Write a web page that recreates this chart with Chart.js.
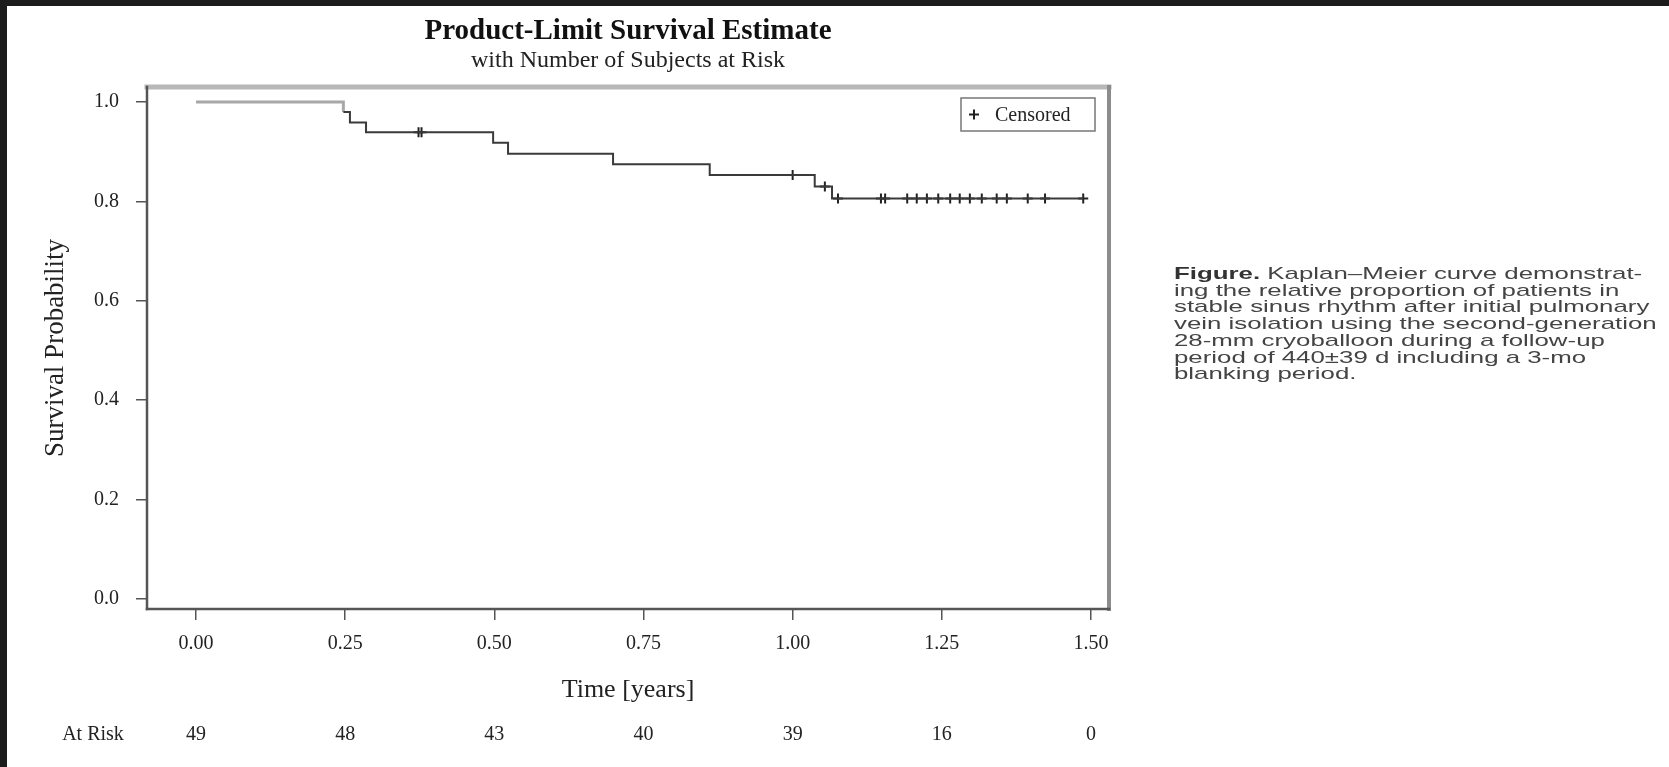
<!DOCTYPE html>
<html>
<head>
<meta charset="utf-8">
<title>Product-Limit Survival Estimate</title>
<script src="https://cdn.jsdelivr.net/npm/chart.js@4.4.0/dist/chart.umd.min.js"></script>
<style>
html, body { margin: 0; padding: 0; overflow: hidden; background: #1c1c1c; width: 1669px; height: 767px; }
#page { position: absolute; left: 7px; top: 6px; right: 0; bottom: 0; background: #fff; }
#wrap { position: absolute; left: 0; top: 0; width: 1669px; height: 767px; }
#caption {
  position: absolute; left: 1174px; top: 266px; white-space: nowrap;
  font-family: "Liberation Sans", Arial, sans-serif; font-size: 17px; line-height: 16.7px;
  color: #444; transform: scaleX(1.52); transform-origin: 0 0;
}
#caption b { color: #333; }
</style>
</head>
<body>
<div id="page"></div>
<div id="wrap"><canvas id="km"></canvas></div>
<div id="caption">
<b>Figure.</b> Kaplan–Meier curve demonstrat-<br>
ing the relative proportion of patients in<br>
stable sinus rhythm after initial pulmonary<br>
vein isolation using the second-generation<br>
28-mm cryoballoon during a follow-up<br>
period of 440±39 d including a 3-mo<br>
blanking period.
</div>
<script>
// Kaplan-Meier steps (time in years, survival after the event)
var eventTimes = [0, 0.247, 0.258, 0.285, 0.498, 0.523, 0.699, 0.861, 1.037, 1.066, 1.487];
var survival   = [1.0, 0.980, 0.959, 0.939, 0.918, 0.896, 0.875, 0.853, 0.830, 0.806, 0.806];

// censored observations
var censorTimes = [0.373, 0.378, 1.000, 1.054, 1.076, 1.148, 1.155, 1.192, 1.208, 1.225, 1.244,
                   1.264, 1.280, 1.297, 1.317, 1.342, 1.359, 1.394, 1.423, 1.487];
var censorSurv  = [0.939, 0.939, 0.853, 0.830, 0.806, 0.806, 0.806, 0.806, 0.806, 0.806, 0.806,
                   0.806, 0.806, 0.806, 0.806, 0.806, 0.806, 0.806, 0.806, 0.806];

var xTicks = [0, 0.25, 0.5, 0.75, 1.0, 1.25, 1.5];
var yTicks = [0, 0.2, 0.4, 0.6, 0.8, 1.0];
var atRisk = [49, 48, 43, 40, 39, 16, 0];

var serif = '"Liberation Serif", "Times New Roman", serif';

var kmPoints = eventTimes.map(function(t, i) { return {x: t, y: survival[i]}; });
var censPoints = censorTimes.map(function(t, i) { return {x: t, y: censorSurv[i]}; });

function seg(ctx, x1, y1, x2, y2) {
  ctx.beginPath(); ctx.moveTo(x1, y1); ctx.lineTo(x2, y2); ctx.stroke();
}

// frame, legend box and number-at-risk row
var kmExtras = {
  id: 'kmExtras',
  afterDraw: function(chart) {
    var ctx = chart.ctx, a = chart.chartArea, xs = chart.scales.x;
    ctx.save();
    ctx.lineCap = 'square';
    ctx.strokeStyle = '#b8b8b8'; ctx.lineWidth = 5;
    seg(ctx, a.left, a.top, a.right, a.top);
    ctx.strokeStyle = '#8c8c8c'; ctx.lineWidth = 4;
    seg(ctx, a.right, a.top, a.right, a.bottom);
    ctx.strokeStyle = '#555'; ctx.lineWidth = 2.5;
    seg(ctx, a.left, a.top, a.left, a.bottom);
    seg(ctx, a.left, a.bottom, a.right, a.bottom);

    // legend
    var bw = 134, bh = 33, bx = a.right - 14 - bw, by = a.top + 11;
    ctx.strokeStyle = '#777'; ctx.lineWidth = 1.5;
    ctx.strokeRect(bx, by, bw, bh);
    ctx.strokeStyle = '#222'; ctx.lineWidth = 2; ctx.lineCap = 'butt';
    seg(ctx, bx + 8, by + bh / 2, bx + 18, by + bh / 2);
    seg(ctx, bx + 13, by + bh / 2 - 5, bx + 13, by + bh / 2 + 5);
    ctx.font = '20px ' + serif;
    ctx.fillStyle = '#222';
    ctx.textAlign = 'left'; ctx.textBaseline = 'middle';
    ctx.fillText('Censored', bx + 34, by + bh / 2 + 1);

    // at risk
    var ry = a.bottom + 126;
    ctx.textAlign = 'center';
    ctx.fillText('At Risk', a.left - 54, ry);
    xTicks.forEach(function(t, i) {
      ctx.fillText(String(atRisk[i]), xs.getPixelForValue(t), ry);
    });
    ctx.restore();
  }
};

new Chart(document.getElementById('km'), {
  type: 'line',
  data: {
    datasets: [{
      label: 'Survival',
      data: kmPoints,
      stepped: true,
      borderColor: '#3a3a3a',
      borderWidth: 2,
      pointRadius: 0,
      fill: false,
      segment: {
        borderColor: function(c) { return c.p0DataIndex === 0 ? '#a8a8a8' : undefined; },
        borderWidth: function(c) { return c.p0DataIndex === 0 ? 3 : undefined; }
      }
    }, {
      type: 'scatter',
      label: 'Censored',
      data: censPoints,
      showLine: false,
      pointStyle: 'cross',
      pointRadius: 5,
      borderColor: '#222',
      borderWidth: 2
    }]
  },
  options: {
    responsive: true,
    maintainAspectRatio: false,
    animation: false,
    layout: { padding: { left: 0, right: 560, top: 0, bottom: 0 } },
    plugins: {
      legend: { display: false },
      tooltip: { enabled: false },
      title: {
        display: true, fullSize: false,
        text: 'Product-Limit Survival Estimate',
        color: '#111',
        font: { family: serif, size: 29, weight: 'bold', lineHeight: 1 },
        padding: { top: 17.5, bottom: 2 }
      },
      subtitle: {
        display: true, fullSize: false,
        text: 'with Number of Subjects at Risk',
        color: '#222',
        font: { family: serif, size: 24, lineHeight: 1 },
        padding: { top: 0, bottom: 14.5 }
      }
    },
    scales: {
      x: {
        type: 'linear',
        min: -0.0821, max: 1.5302,
        afterBuildTicks: function(s) { s.ticks = xTicks.map(function(v) { return {value: v}; }); },
        afterFit: function(s) { s.height = 158; },
        ticks: {
          callback: function(v) { return Number(v).toFixed(2); },
          font: { family: serif, size: 20 }, color: '#222', padding: 12, maxRotation: 0
        },
        grid: { drawOnChartArea: false, drawTicks: true, tickLength: 11, color: '#555', lineWidth: 1.5 },
        border: { display: false },
        title: {
          display: true, text: 'Time [years]', color: '#222',
          font: { family: serif, size: 26 }, padding: { top: 0, bottom: 61 }
        }
      },
      y: {
        type: 'linear',
        min: -0.0201, max: 1.0302,
        afterBuildTicks: function(s) { s.ticks = yTicks.map(function(v) { return {value: v}; }); },
        afterFit: function(s) { s.width = 147; },
        ticks: {
          callback: function(v) { return Number(v).toFixed(1); },
          font: { family: serif, size: 20 }, color: '#222', padding: 17
        },
        grid: { drawOnChartArea: false, drawTicks: true, tickLength: 11, color: '#555', lineWidth: 1.5 },
        border: { display: false },
        title: {
          display: true, text: 'Survival Probability', color: '#222',
          font: { family: serif, size: 27 }, padding: { top: 40, bottom: 0 }
        }
      }
    }
  },
  plugins: [kmExtras]
});
</script>
</body>
</html>
